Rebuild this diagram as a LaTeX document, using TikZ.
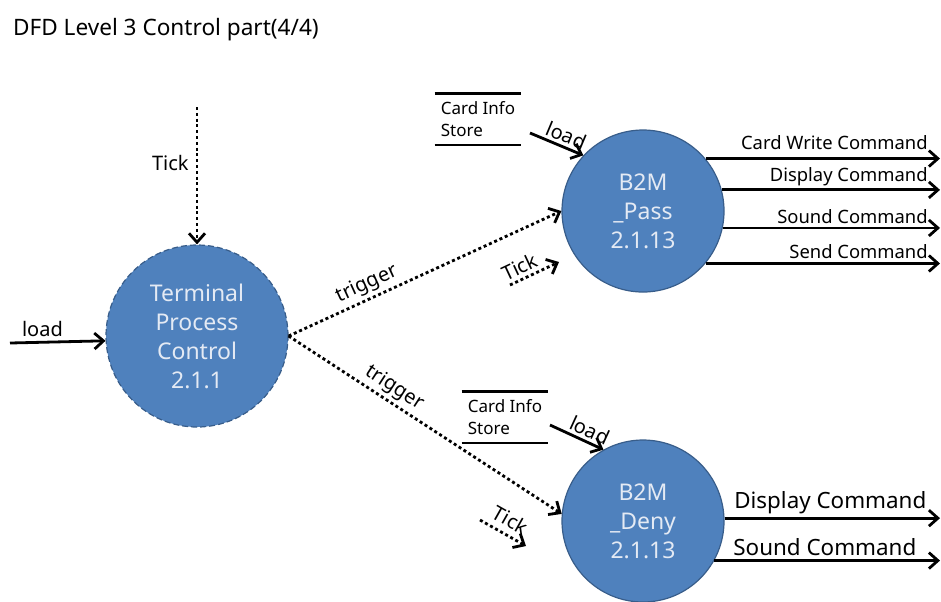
\documentclass[tikz,border=0pt]{standalone}
\usepackage{fontspec}
\setmainfont{Noto Sans}
\usetikzlibrary{arrows.meta}
\definecolor{procfill}{RGB}{79,129,189}
\definecolor{procline}{RGB}{56,93,138}
\definecolor{proctext}{RGB}{228,234,244}

\begin{document}
\begin{tikzpicture}[x=0.5pt,y=-0.5pt]
  \tikzstyle{ProcessStyle}=[circle,fill=procfill,draw=procline,line width=0.6pt,text=proctext,align=center,inner sep=0pt,font=\fontsize{11.5}{14.5}\selectfont]
  \tikzstyle{StoreStyle}=[minimum width=43pt,minimum height=25.5pt,inner sep=1pt,align=left,font=\fontsize{8.5}{11}\selectfont]
  \tikzstyle{FlowStyle}=[line width=1.4pt,-{Straight Barb[length=4.5pt,width=8pt]}]
  \tikzstyle{CtrlStyle}=[FlowStyle,dash pattern=on 1.5pt off 1.4pt]
  \tikzstyle{LabelStyle}=[sloped,above,inner sep=1.5pt,font=\fontsize{10}{12}\selectfont]
  \tikzstyle{SmallOut}=[above left,inner sep=1.5pt,xshift=-4pt,font=\fontsize{9.2}{10}\selectfont]
  \tikzstyle{BigOut}=[anchor=south west,inner sep=1.5pt,font=\fontsize{11.2}{13}\selectfont]
  \useasboundingbox (0,0) rectangle (941,601);
  \node[anchor=west,font=\fontsize{11.3}{13}\selectfont] (Title) at (6,30) {DFD Level 3 Control part(4/4)};
  % processes
  \node[ProcessStyle,dashed,dash pattern=on 3pt off 1.5pt,minimum size=91pt] (TPC) at (197,336) {Terminal\\Process\\Control\\2.1.1};
  \node[ProcessStyle,minimum size=81pt] (Pass) at (643,211) {B2M\\\_Pass\\2.1.13};
  \node[ProcessStyle,minimum size=81pt] (Deny) at (643,521) {B2M\\\_Deny\\2.1.13};
  % stores
  \node[StoreStyle] (PassStore) at (478,119) {Card Info\\Store};
  \node[StoreStyle] (DenyStore) at (505,417) {Card Info\\Store};
  \draw[line width=1.4pt] (PassStore.north west) -- (PassStore.north east)
                          (PassStore.south west) -- (PassStore.south east);
  \draw[line width=1.4pt] (DenyStore.north west) -- (DenyStore.north east)
                          (DenyStore.south west) -- (DenyStore.south east);
  \coordinate (TickIn) at (197,107);
  \coordinate (LoadIn) at (10,343);
  \coordinate (PassLoad) at (530,133);
  \coordinate (DenyLoad) at (550,425);
  \coordinate (PassTick) at (510,285);
  \coordinate (PassTickEnd) at (559,262);
  \coordinate (DenyTick) at (480,520);
  \coordinate (DenyTickEnd) at (526,546);
  \coordinate (OutEnd) at (940,0);
  % Terminal Process Control
  \draw[CtrlStyle] (TickIn) -- (TPC.north) node[pos=0.41,left,inner sep=3.5pt,font=\fontsize{10}{12}\selectfont] {Tick};
  \draw[FlowStyle] (LoadIn) -- (TPC.183) node[pos=0.34,above,inner sep=2pt,font=\fontsize{10}{12}\selectfont] {load};
  \draw[CtrlStyle] (TPC.east) -- (Pass.180) node[LabelStyle,pos=0.31] {trigger};
  \draw[CtrlStyle] (TPC.east) -- (Deny.175) node[LabelStyle,pos=0.36] {trigger};
  % B2M_Pass
  \draw[FlowStyle] (PassLoad) -- (Pass.137) node[LabelStyle,pos=0.6] {load};
  \draw[CtrlStyle] (PassTick) -- (PassTickEnd) node[LabelStyle,pos=0.3] {Tick};
  \draw[FlowStyle] (Pass.40) -- (Pass.40 -| OutEnd) node[SmallOut,pos=1,yshift=2pt] {Card Write Command};
  \draw[FlowStyle] (Pass.15) -- (Pass.15 -| OutEnd) node[SmallOut,pos=1] {Display Command};
  \draw[FlowStyle] (Pass.-12) -- (Pass.-12 -| OutEnd) node[SmallOut,pos=1] {Sound Command};
  \draw[FlowStyle] (Pass.-40) -- (Pass.-40 -| OutEnd) node[SmallOut,pos=1] {Send Command};
  % B2M_Deny
  \draw[FlowStyle] (DenyLoad) -- (Deny.119) node[LabelStyle,pos=0.65] {load};
  \draw[CtrlStyle] (DenyTick) -- (DenyTickEnd) node[LabelStyle,pos=0.5,inner sep=3pt] {Tick};
  \draw[FlowStyle] (Deny.2) -- (Deny.2 -| OutEnd) node[BigOut,pos=0.025] {Display Command};
  \draw[FlowStyle] (Deny.-29) -- (Deny.-29 -| OutEnd) node[BigOut,pos=0.065] {Sound Command};
\end{tikzpicture}
\end{document}
